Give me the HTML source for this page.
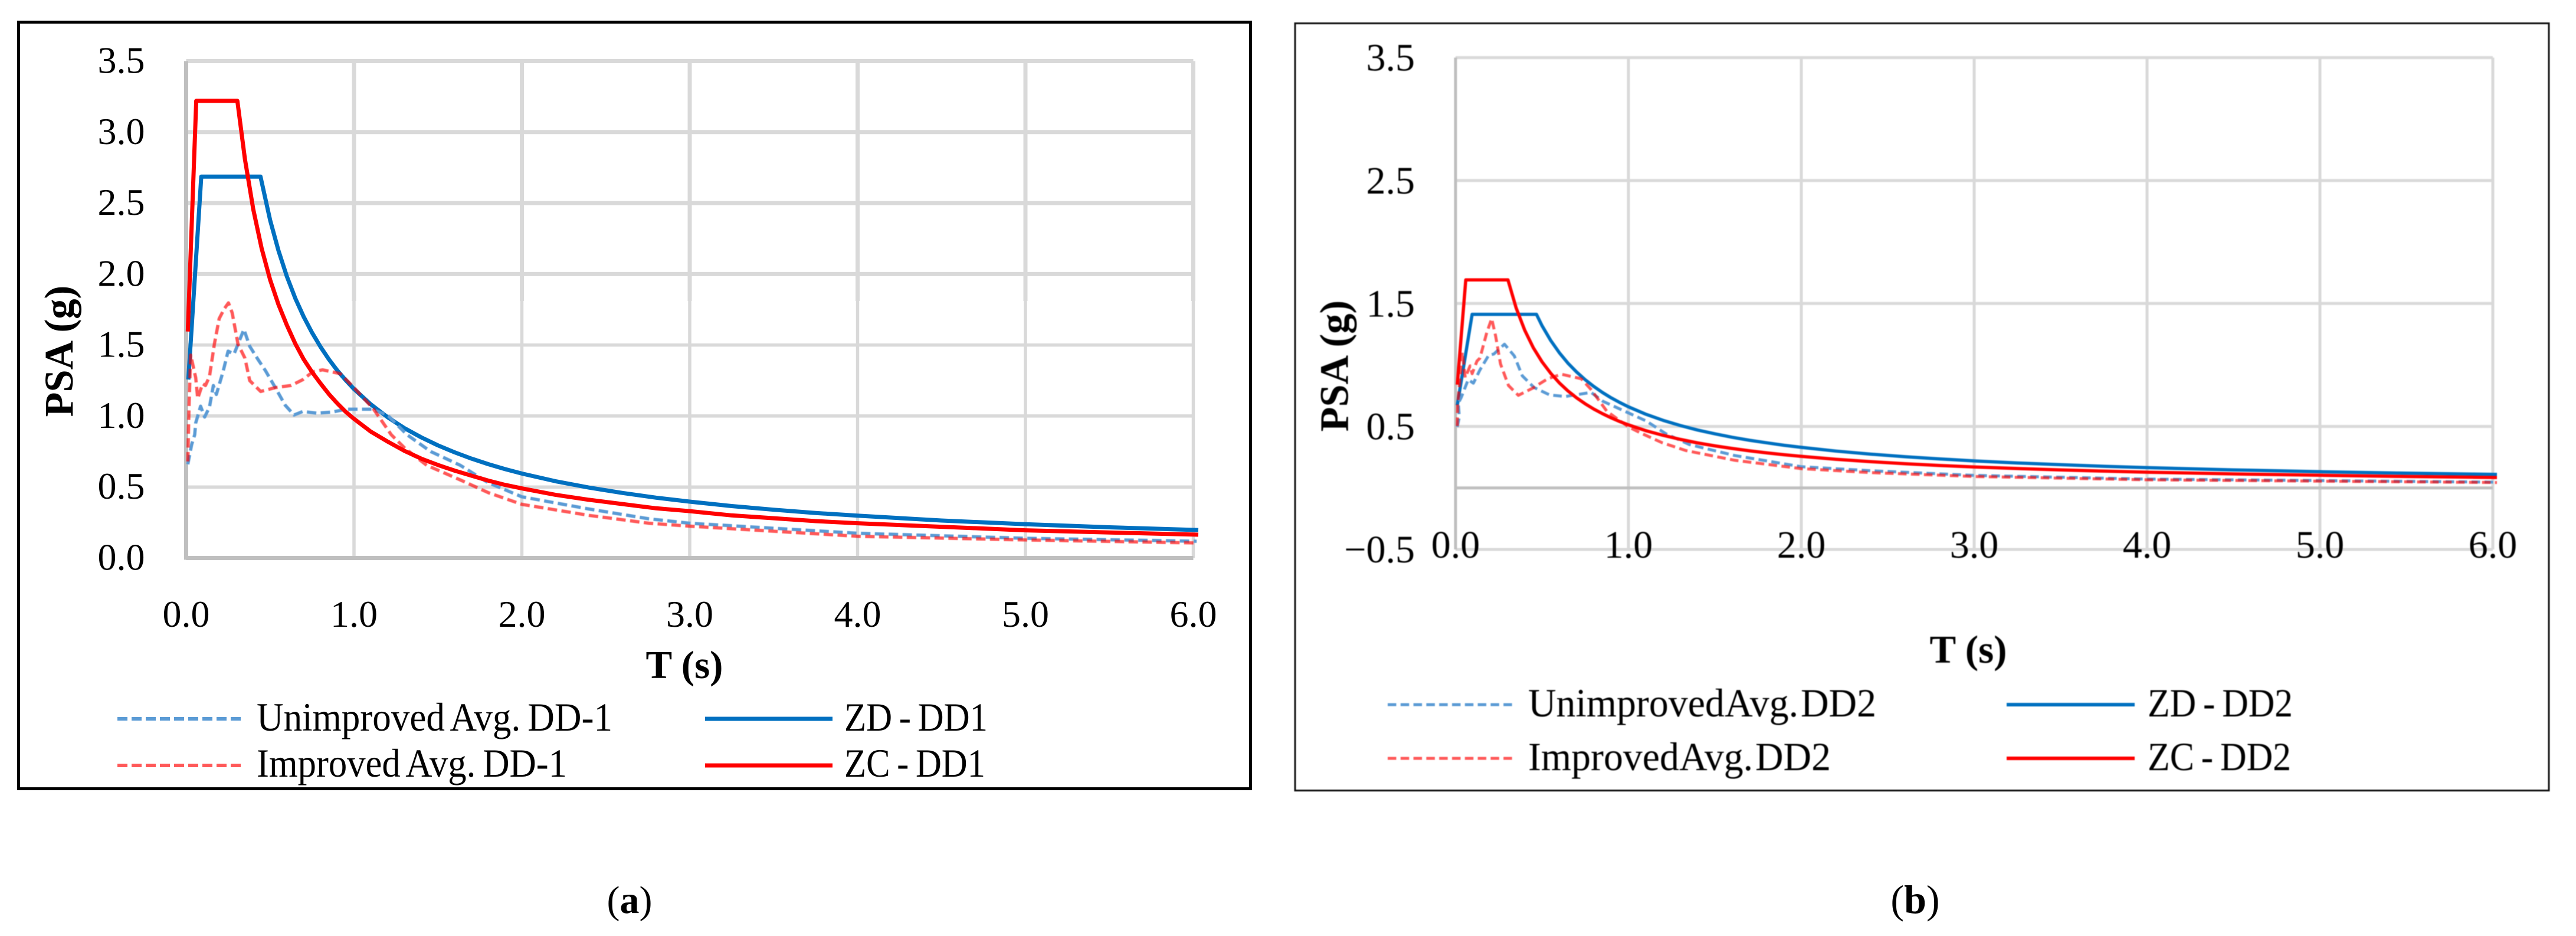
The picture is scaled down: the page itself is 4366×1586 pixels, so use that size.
<!DOCTYPE html>
<html lang="en">
<head>
<meta charset="utf-8">
<title>PSA response spectra</title>
<style>
html,body{margin:0;padding:0;background:#fff;width:4366px;height:1586px;overflow:hidden}
svg{display:block}
text{font-family:"Liberation Serif",serif;fill:#000}
.lg{font-size:68px;word-spacing:-4px}
.lgb{font-size:68px;word-spacing:-13px}
.ti{font-size:67px;font-weight:bold}
.ya{font-size:68.5px;font-weight:bold}
</style>
</head>
<body>
<svg id="figure" width="4366" height="1586" viewBox="0 0 4366 1586" xmlns="http://www.w3.org/2000/svg">
  <rect width="4366" height="1586" fill="#fff"/>

  <g id="panelA">
    <rect x="31.5" y="37.5" width="2088" height="1299" fill="none" stroke="#000" stroke-width="5"/>
    <g id="layerA"></g>
    <text class="ya" transform="translate(122.8 595) rotate(-90)" text-anchor="middle">PSA (g)</text>
    <text class="ti" x="1160" y="1149" text-anchor="middle">T (s)</text>
    <line x1="199" x2="410" y1="1218" y2="1218" stroke="#5b9bd5" stroke-width="6" stroke-dasharray="17 7"/>
    <text class="lg" x="435" y="1238" textLength="603" lengthAdjust="spacingAndGlyphs">Unimproved Avg. DD-1</text>
    <line x1="199" x2="410" y1="1297" y2="1297" stroke="#ff5959" stroke-width="6" stroke-dasharray="17 7"/>
    <text class="lg" x="435" y="1316" textLength="526" lengthAdjust="spacingAndGlyphs">Improved Avg. DD-1</text>
    <line x1="1195" x2="1411" y1="1218" y2="1218" stroke="#0070c0" stroke-width="7"/>
    <text class="lg" x="1431" y="1238" textLength="243" lengthAdjust="spacingAndGlyphs">ZD - DD1</text>
    <line x1="1195" x2="1411" y1="1297" y2="1297" stroke="#ff0000" stroke-width="7"/>
    <text class="lg" x="1431" y="1316" textLength="239" lengthAdjust="spacingAndGlyphs">ZC - DD1</text>
  </g>

  <g id="panelB" style="filter:blur(0.7px)">
    <rect x="2195" y="39.5" width="2125" height="1300" fill="none" stroke="#111" stroke-width="3"/>
    <g id="layerB"></g>
    <text class="ya" transform="translate(2284.7 620) rotate(-90)" text-anchor="middle">PSA (g)</text>
    <text class="ti" x="3336" y="1123" text-anchor="middle">T (s)</text>
    <line x1="2352" x2="2565" y1="1194" y2="1194" stroke="#5b9bd5" stroke-width="5" stroke-dasharray="14.5 7.3"/>
    <text class="lgb" x="2590" y="1214" textLength="590" lengthAdjust="spacingAndGlyphs">Unimproved Avg. DD2</text>
    <line x1="2352" x2="2565" y1="1285" y2="1285" stroke="#ff5959" stroke-width="5" stroke-dasharray="14.5 7.3"/>
    <text class="lgb" x="2590" y="1305" textLength="513" lengthAdjust="spacingAndGlyphs">Improved Avg. DD2</text>
    <line x1="3401" x2="3618" y1="1194" y2="1194" stroke="#0070c0" stroke-width="6"/>
    <text class="lg" x="3640" y="1214" textLength="246" lengthAdjust="spacingAndGlyphs">ZD - DD2</text>
    <line x1="3401" x2="3618" y1="1285" y2="1285" stroke="#ff0000" stroke-width="6"/>
    <text class="lg" x="3640" y="1305" textLength="243" lengthAdjust="spacingAndGlyphs">ZC - DD2</text>
  </g>

  <text x="1067" y="1547" text-anchor="middle" style="font-size:66px">(<tspan font-weight="bold">a</tspan>)</text>
  <text x="3246" y="1547" text-anchor="middle" style="font-size:68px">(<tspan font-weight="bold">b</tspan>)</text>
</svg>

<script>
/* ---------- Tick values ---------- */
const xTicks = [0, 1, 2, 3, 4, 5, 6];
const yTicksA = [0, 0.5, 1, 1.5, 2, 2.5, 3, 3.5];
const yTicksB = [-0.5, 0.5, 1.5, 2.5, 3.5];

/* ---------- Panel (a) series: period (s) and PSA (g) ---------- */
const zcT1 = [0.01,0.06,0.305,0.35,0.4,0.45,0.5,0.55,0.6,0.65,0.7,0.75,0.8,0.85,0.9,0.95,1,1.1,1.2,1.3,1.4,1.5,1.6,1.7,1.8,1.9,2,2.2,2.4,2.6,2.8,3,3.25,3.5,3.75,4,4.5,5,5.5,6.03];
const zcV1 = [1.595,3.22,3.22,2.81,2.455,2.18,1.96,1.785,1.64,1.51,1.40,1.31,1.23,1.155,1.09,1.03,0.98,0.89,0.82,0.755,0.70,0.655,0.615,0.58,0.545,0.515,0.49,0.445,0.41,0.38,0.35,0.33,0.30,0.28,0.26,0.245,0.22,0.195,0.18,0.164];
const zdT1 = [0.013,0.09,0.443,0.5,0.55,0.6,0.65,0.7,0.75,0.8,0.85,0.9,0.95,1,1.1,1.2,1.3,1.4,1.5,1.6,1.7,1.8,1.9,2,2.2,2.4,2.6,2.8,3,3.25,3.5,3.75,4,4.5,5,5.5,6.03];
const zdV1 = [1.257,2.686,2.686,2.38,2.165,1.983,1.83,1.70,1.587,1.488,1.40,1.322,1.253,1.19,1.082,0.992,0.915,0.85,0.793,0.744,0.70,0.661,0.626,0.595,0.541,0.496,0.458,0.425,0.397,0.366,0.34,0.317,0.298,0.264,0.238,0.216,0.197];
const unimpT1 = [0.01,0.033,0.051,0.057,0.086,0.11,0.139,0.162,0.18,0.221,0.25,0.285,0.344,0.379,0.426,0.473,0.531,0.59,0.643,0.695,0.777,0.871,0.953,1.105,1.199,1.316,1.457,1.633,1.8,2,2.4,2.757,3,4,5,6.02];
const unimpV1 = [0.66,0.80,0.868,0.951,1.069,0.993,1.062,1.215,1.152,1.318,1.457,1.436,1.61,1.491,1.402,1.318,1.20,1.076,1.007,1.032,1.02,1.028,1.048,1.048,1.007,0.868,0.75,0.653,0.53,0.431,0.345,0.276,0.245,0.174,0.139,0.118];
const impT1 = [0.01,0.018,0.027,0.057,0.069,0.098,0.115,0.139,0.168,0.197,0.227,0.252,0.274,0.309,0.35,0.379,0.444,0.531,0.625,0.695,0.754,0.813,0.918,1,1.117,1.222,1.305,1.433,1.633,1.8,2,2.4,2.757,3,4,5,6.02];
const impV1 = [0.68,1.104,1.429,1.27,1.124,1.228,1.215,1.277,1.506,1.686,1.755,1.797,1.727,1.506,1.408,1.249,1.173,1.20,1.215,1.256,1.311,1.325,1.298,1.20,1.048,0.868,0.771,0.653,0.55,0.46,0.378,0.30,0.245,0.224,0.153,0.127,0.106];

/* ---------- Panel (b) series: period (s) and PSA (g) ---------- */
const zcT2 = [0.01,0.059,0.303,0.35,0.4,0.45,0.5,0.55,0.6,0.65,0.7,0.75,0.8,0.85,0.9,0.95,1,1.1,1.2,1.3,1.4,1.5,1.6,1.7,1.8,1.9,2,2.2,2.4,2.6,2.8,3,3.25,3.5,3.75,4,4.5,5,5.5,6.024];
const zcV2 = [0.84,1.692,1.692,1.465,1.283,1.14,1.026,0.933,0.855,0.789,0.733,0.684,0.641,0.604,0.57,0.54,0.513,0.466,0.428,0.395,0.366,0.342,0.321,0.302,0.285,0.27,0.257,0.233,0.214,0.197,0.183,0.171,0.158,0.147,0.137,0.128,0.114,0.103,0.093,0.085];
const zdT2 = [0.01,0.096,0.468,0.5,0.55,0.6,0.65,0.7,0.75,0.8,0.85,0.9,0.95,1,1.1,1.2,1.3,1.4,1.5,1.6,1.7,1.8,1.9,2,2.2,2.4,2.6,2.8,3,3.25,3.5,3.75,4,4.5,5,5.5,6.024];
const zdV2 = [0.672,1.412,1.412,1.32,1.2,1.1,1.015,0.943,0.88,0.825,0.776,0.733,0.695,0.66,0.6,0.55,0.508,0.471,0.44,0.4125,0.388,0.367,0.347,0.33,0.3,0.275,0.254,0.236,0.22,0.203,0.189,0.176,0.165,0.147,0.132,0.12,0.11];
const unimpT2 = [0.01,0.022,0.016,0.033,0.073,0.103,0.141,0.192,0.221,0.283,0.34,0.386,0.454,0.545,0.636,0.784,0.852,0.989,1.102,1.216,1.353,1.614,2,2.4,3,4,5,6.024];
const unimpV2 = [0.497,0.576,0.689,0.737,0.881,0.852,0.96,1.08,1.089,1.169,1.073,0.912,0.817,0.756,0.744,0.777,0.705,0.617,0.545,0.441,0.353,0.264,0.173,0.14,0.102,0.072,0.06,0.047];
const impT2 = [0.01,0.012,0.039,0.056,0.084,0.096,0.124,0.141,0.181,0.209,0.232,0.26,0.306,0.363,0.443,0.533,0.613,0.727,0.784,0.875,1,1.068,1.193,1.33,1.614,2,2.4,3,4,5,6.024];
const impV2 = [0.504,0.672,1.104,0.897,0.993,0.929,1.032,1.056,1.265,1.377,1.233,1.008,0.833,0.753,0.809,0.888,0.925,0.888,0.80,0.624,0.497,0.449,0.369,0.305,0.225,0.157,0.125,0.093,0.066,0.055,0.044];

/* ---------- Axis functions ---------- */
function xA(t) { return 315.5 + 284.5 * t; }
function yA(v) { return 945.5 - 240.57 * v; }
function xB(t) { return 2467 + 293 * t; }
function yB(v) { return 826.8 - 208.35 * v; }

const NS = 'http://www.w3.org/2000/svg';
const GRID = '#d9d9d9';
const AXIS = '#bfbfbf';

function makeLine(parent, x1, y1, x2, y2, color, width) {
  const el = document.createElementNS(NS, 'line');
  el.setAttribute('x1', x1);
  el.setAttribute('y1', y1);
  el.setAttribute('x2', x2);
  el.setAttribute('y2', y2);
  el.setAttribute('stroke', color);
  el.setAttribute('stroke-width', width);
  parent.appendChild(el);
  return el;
}

function makeLabel(parent, x, y, anchor, size, str) {
  const el = document.createElementNS(NS, 'text');
  el.setAttribute('x', x);
  el.setAttribute('y', y);
  el.setAttribute('text-anchor', anchor);
  el.setAttribute('font-size', size);
  el.textContent = str;
  parent.appendChild(el);
  return el;
}

function makeSeries(parent, times, values, xf, yf, color, width, dash, blur) {
  const el = document.createElementNS(NS, 'polyline');
  const pts = times.map(function (t, i) { return xf(t).toFixed(1) + ',' + yf(values[i]).toFixed(1); });
  el.setAttribute('points', pts.join(' '));
  el.setAttribute('fill', 'none');
  el.setAttribute('stroke', color);
  el.setAttribute('stroke-width', width);
  el.setAttribute('stroke-linejoin', 'round');
  if (dash) el.setAttribute('stroke-dasharray', dash);
  if (blur) el.style.filter = 'blur(' + blur + 'px)';
  parent.appendChild(el);
  return el;
}

function fmt(v) { return v.toFixed(1).replace('-', '\u2212'); }

/* ---------- Panel (a) ---------- */
const layerA = document.getElementById('layerA');
const splitA = 510;
yTicksA.forEach(function (v) {
  if (v === 0) return;
  const el = makeLine(layerA, xA(0), yA(v), xA(6), yA(v), GRID, v >= 2 ? 7 : 5.5);
  
  
});
xTicks.forEach(function (t) {
  if (t === 0) return;
  const up = makeLine(layerA, xA(t), yA(3.5), xA(t), splitA, GRID, 7);
  
  
  const low = makeLine(layerA, xA(t), splitA, xA(t), yA(0), GRID, 5.5);
  
  
});
const axisYA = makeLine(layerA, xA(0), yA(3.5), xA(0), yA(0) + 3, AXIS, 7);


const axisXA = makeLine(layerA, xA(0), yA(0), xA(6), yA(0), AXIS, 7);



yTicksA.forEach(function (v) {
  const el = makeLabel(layerA, 245.5, yA(v) + 20, 'end', 64, fmt(v));
  
  
});
xTicks.forEach(function (t) {
  const el = makeLabel(layerA, xA(t), 1062, 'middle', 64, fmt(t));
  
  
});

const s1a = makeSeries(layerA, zdT1, zdV1, xA, yA, '#0070c0', 7);


const s2a = makeSeries(layerA, unimpT1, unimpV1, xA, yA, '#5b9bd5', 5.5, '16 7.5', 0.5);


const s3a = makeSeries(layerA, impT1, impV1, xA, yA, 'rgba(255,0,0,0.65)', 5.5, '16 7.5', 0.5);


const s4a = makeSeries(layerA, zcT1, zcV1, xA, yA, '#ff0000', 7);



/* ---------- Panel (b) ---------- */
const layerB = document.getElementById('layerB');
yTicksB.forEach(function (v) {
  const el = makeLine(layerB, xB(0), yB(v), xB(6), yB(v), GRID, 5);
  
  
});
xTicks.forEach(function (t) {
  if (t === 0) return;
  const el = makeLine(layerB, xB(t), yB(3.5), xB(t), yB(-0.5), GRID, 5);
  
  
});
const axisYB = makeLine(layerB, xB(0), yB(3.5), xB(0), yB(-0.5), AXIS, 5);


const axisXB = makeLine(layerB, xB(0), yB(0), xB(6), yB(0), AXIS, 5);



const s1b = makeSeries(layerB, zdT2, zdV2, xB, yB, '#0070c0', 5.5);


const s2b = makeSeries(layerB, unimpT2, unimpV2, xB, yB, '#5b9bd5', 5, '14.5 7.5');


const s3b = makeSeries(layerB, impT2, impV2, xB, yB, 'rgba(255,0,0,0.65)', 5, '14.5 7.5');


const s4b = makeSeries(layerB, zcT2, zcV2, xB, yB, '#ff0000', 5.5);



yTicksB.forEach(function (v) {
  const el = makeLabel(layerB, 2398, yB(v) + 22, 'end', 66, fmt(v));
  
  
});
xTicks.forEach(function (t) {
  const el = makeLabel(layerB, xB(t), 945, 'middle', 66, fmt(t));
  
  
});
</script>
</body>
</html>
